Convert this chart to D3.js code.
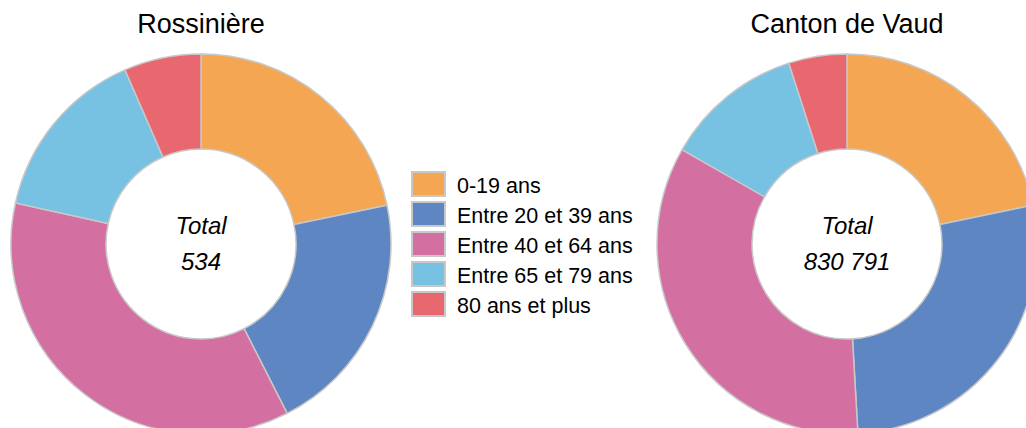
<!DOCTYPE html>
<html lang="fr">
<head>
<meta charset="UTF-8"/>
<script src="https://d3js.org/d3.v7.min.js"></script>
<style>
  body { margin: 0; background: #fff; }
  text { font-family: "Liberation Sans", Arial, sans-serif; fill: #000; }
</style>
</head>
<body>
<div id="chart"></div>
<script>
// age groups and populations
var categories = ["0-19 ans", "Entre 20 et 39 ans", "Entre 40 et 64 ans", "Entre 65 et 79 ans", "80 ans et plus"];
var colors = ["#f4a653", "#5e86c3", "#d46fa1", "#77c1e3", "#e96870"];
var titles = ["Rossinière", "Canton de Vaud"];
var rossiniere = [116, 111, 192, 80, 35];
var vaud = [180452, 227318, 284047, 97862, 41112];

var width = 1026, height = 428;
var outerR = 190, innerR = 95;

var svg = d3.select("#chart").append("svg")
    .attr("width", width)
    .attr("height", height);

var color = d3.scaleOrdinal().domain(categories).range(colors);
var pie = d3.pie().sort(null);
var arc = d3.arc().innerRadius(innerR).outerRadius(outerR);
var fmt = d3.formatLocale({decimal: ",", thousands: " ", grouping: [3], currency: ["", ""]}).format(",d");

function donut(values, title, cx) {
    var g = svg.append("g").attr("transform", "translate(" + cx + ",244)");

    g.selectAll("path")
        .data(pie(values))
        .enter()
        .append("path")
        .attr("d", arc)
        .attr("fill", function (d, i) { return color(categories[i]); })
        .attr("stroke", "#c8c8c8")
        .attr("stroke-width", 1.5);

    // title
    svg.append("text")
        .attr("x", cx)
        .attr("y", 33)
        .attr("text-anchor", "middle")
        .style("font-size", "27px")
        .text(title);

    // total in the hole
    var total = d3.sum(values);
    g.append("text")
        .attr("y", -10)
        .attr("text-anchor", "middle")
        .style("font-size", "24px")
        .style("font-style", "italic")
        .text("Total");
    g.append("text")
        .attr("y", 26)
        .attr("text-anchor", "middle")
        .style("font-size", "24px")
        .style("font-style", "italic")
        .text(fmt(total));
}

donut(rossiniere, titles[0], 201);
donut(vaud, titles[1], 847);

// legend
var legend = svg.append("g").attr("transform", "translate(411,171)");
var row = legend.selectAll("g")
    .data(categories)
    .enter()
    .append("g")
    .attr("transform", function (d, i) { return "translate(0," + (i * 30) + ")"; });

row.append("rect")
    .attr("x", 1)
    .attr("y", 1)
    .attr("width", 33)
    .attr("height", 24)
    .attr("fill", function (d) { return color(d); })
    .attr("stroke", "#c8c8c8")
    .attr("stroke-width", 2);

row.append("text")
    .attr("x", 46)
    .attr("y", 22)
    .style("font-size", "21.5px")
    .text(function (d) { return d; });
</script>
</body>
</html>
